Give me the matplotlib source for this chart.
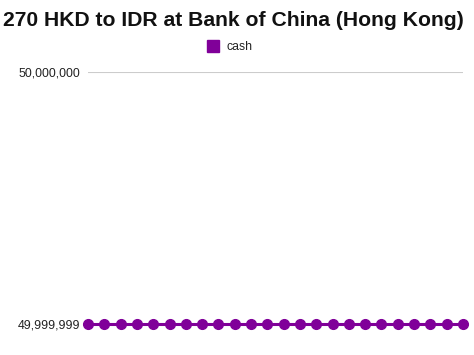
import matplotlib
matplotlib.use("Agg")
import matplotlib.pyplot as plt
from matplotlib.ticker import FuncFormatter, FixedLocator
from matplotlib.lines import Line2D

plt.rcParams['font.family'] = ['Liberation Sans', 'DejaVu Sans']

days = list(range(1, 25))
cash = [49999999, 49999999, 49999999, 49999999, 49999999, 49999999,
        49999999, 49999999, 49999999, 49999999, 49999999, 49999999,
        49999999, 49999999, 49999999, 49999999, 49999999, 49999999,
        49999999, 49999999, 49999999, 49999999, 49999999, 49999999]
y_ticks = [49999999, 50000000]
title = "270 HKD to IDR at Bank of China (Hong Kong)"
series_name = "cash"
color = "#800099"

fig = plt.figure(figsize=(4.74, 3.55), dpi=100)
ax = fig.add_axes([88/474, (355-324)/355, (463-88)/474, (324-72)/355])

ax.plot(days, cash, color=color, linewidth=2.2, marker='o', markersize=7.0,
        clip_on=False, zorder=3)
ax.set_xlim(days[0], days[-1])
ax.set_ylim(y_ticks[0], y_ticks[-1])
ax.yaxis.set_major_locator(FixedLocator(y_ticks))
ax.yaxis.set_major_formatter(FuncFormatter(lambda v, p: f"{int(round(v)):,}"))
ax.set_xticks([])
for s in ax.spines.values():
    s.set_visible(False)
ax.tick_params(axis='y', length=0, pad=5.8, labelsize=8.9, labelcolor='#222222')
ax.grid(axis='y', color='#cccccc', linewidth=0.8)

fig.text(233/474, 1 - 20/355, title, ha='center', va='center',
         fontsize=15.2, fontweight='bold', color='#111111')
handle = Line2D([], [], marker='s', linestyle='none', markersize=9,
                markerfacecolor=color, markeredgecolor=color)
fig.legend([handle], [series_name], loc='center', bbox_to_anchor=(230/474, 1 - 47/355),
           frameon=False, fontsize=8.8, handletextpad=0.6, handlelength=1.0,
           borderpad=0, labelcolor='#222222')

fig.savefig("out.png", dpi=100)
